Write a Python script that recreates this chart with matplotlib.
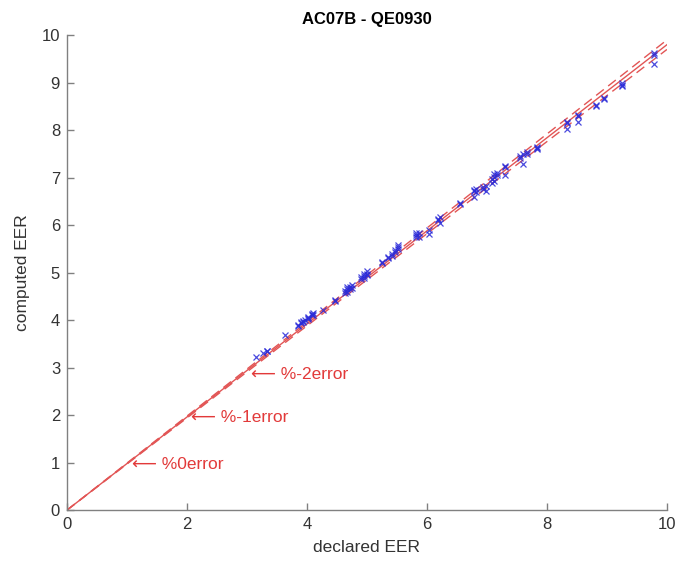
import matplotlib
matplotlib.use("Agg")
import matplotlib.pyplot as plt
import numpy as np

plt.rcParams["font.family"] = ["Liberation Sans", "DejaVu Sans"]

# declared vs computed EER pairs
declared = [
    3.15, 3.27, 3.33, 3.33, 3.63, 3.85, 3.85, 3.90, 3.90, 3.93, 3.93, 3.97,
    4.02, 4.02, 4.02, 4.08, 4.08, 4.10, 4.10, 4.27, 4.47, 4.47,
    4.63, 4.63, 4.67, 4.67, 4.67, 4.72, 4.72, 4.75, 4.75,
    4.90, 4.90, 4.95, 4.95, 4.95, 5.00, 5.00, 5.00,
    5.25, 5.25, 5.35, 5.35, 5.42, 5.42, 5.47, 5.47, 5.52, 5.52, 5.52,
    5.82, 5.82, 5.82, 5.87, 5.87, 6.03, 6.03, 6.18, 6.18, 6.22, 6.22,
    6.55, 6.55, 6.78, 6.78, 6.78, 6.82, 6.82, 6.93, 6.93, 6.98, 6.98,
    7.08, 7.08, 7.12, 7.12, 7.12, 7.17, 7.17, 7.30, 7.30, 7.30,
    7.55, 7.55, 7.60, 7.60, 7.67, 7.67, 7.83, 7.83, 7.83,
    8.33, 8.33, 8.33, 8.52, 8.52, 8.52, 8.82, 8.82, 8.95, 8.95,
    9.25, 9.25, 9.25, 9.78, 9.78, 9.78,
]
computed = [
    3.22, 3.31, 3.35, 3.36, 3.68, 3.88, 3.90, 3.94, 3.97, 3.96, 3.99, 4.00,
    4.04, 4.06, 4.02, 4.12, 4.10, 4.11, 4.14, 4.22, 4.42, 4.40,
    4.58, 4.62, 4.65, 4.70, 4.60, 4.70, 4.66, 4.73, 4.68,
    4.86, 4.90, 4.92, 4.98, 4.88, 4.98, 5.03, 4.95,
    5.20, 5.22, 5.33, 5.30, 5.40, 5.36, 5.43, 5.48, 5.55, 5.58, 5.50,
    5.80, 5.84, 5.75, 5.83, 5.76, 5.90, 5.82, 6.13, 6.10, 6.17, 6.05,
    6.47, 6.45, 6.75, 6.72, 6.60, 6.77, 6.70, 6.80, 6.76, 6.72, 6.83,
    6.97, 6.88, 7.02, 7.08, 6.92, 7.10, 7.05, 7.22, 7.25, 7.06,
    7.45, 7.42, 7.50, 7.28, 7.55, 7.50, 7.64, 7.62, 7.60,
    8.18, 8.15, 8.02, 8.33, 8.30, 8.17, 8.54, 8.50, 8.68, 8.65,
    9.00, 8.96, 8.93, 9.63, 9.58, 9.40,
]

# reference lines through the origin: solid centre, dashed bands either side
refX = [0.0, 10.0]
centreFactor = 0.98
bandFactors = [0.99, 0.97]

# annotation labels and their anchor points
noteTexts = ["\u27f5 %0error", "\u27f5 %-1error", "\u27f5 %-2error"]
noteX = [1.08, 2.06, 3.06]
noteY = [0.95, 1.94, 2.86]

fig = plt.figure(figsize=(6.79, 5.68), dpi=100)
ax = fig.add_axes([0.0987, 0.102, 0.8835, 0.836])

lineColor = "#e25555"
ax.plot(refX, [v * centreFactor for v in refX], color=lineColor,
        linewidth=1.0, zorder=2)
for f in bandFactors:
    ax.plot(refX, [v * f for v in refX], color=lineColor, linewidth=1.0,
            linestyle=(0, (7, 4)), zorder=2)

ax.plot(declared, computed, linestyle="none", marker="x", markersize=4.5,
        markeredgewidth=0.9, color="#2a2ad8", alpha=0.85, zorder=3)

for t, x, y in zip(noteTexts, noteX, noteY):
    ax.text(x, y, t, color="#e23a3a", fontsize=12.5, ha="left", va="center")

ax.set_xlim(0, 10)
ax.set_ylim(0, 10)
ax.set_xticks(np.arange(0, 11, 2))
ax.set_yticks(np.arange(0, 11, 1))
for side in ("top", "right"):
    ax.spines[side].set_visible(False)
for side in ("left", "bottom"):
    ax.spines[side].set_color("#808080")
    ax.spines[side].set_linewidth(1.0)
ax.tick_params(direction="in", length=5, width=1.0, color="#808080",
               labelcolor="#333333", labelsize=12, pad=5)

ax.set_xlabel("declared EER", fontsize=12.5, color="#333333", labelpad=6)
ax.set_ylabel("computed EER", fontsize=12.5, color="#333333", labelpad=8)
ax.set_title("AC07B - QE0930", fontsize=12, fontweight="bold", pad=8)

fig.savefig("out.png", dpi=100)
